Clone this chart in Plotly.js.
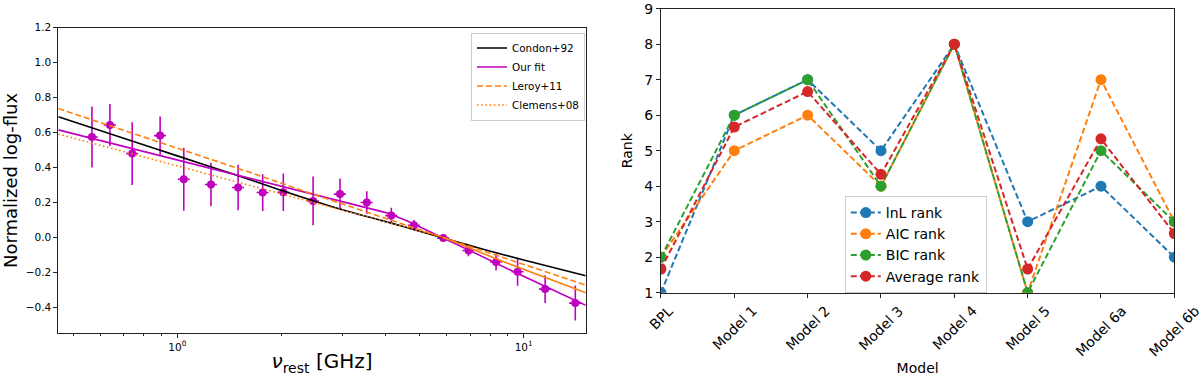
<!DOCTYPE html>
<html>
<head>
<meta charset="utf-8">
<script src="https://cdn.plot.ly/plotly-3.0.1.min.js"></script>
<style>
  html, body { margin: 0; padding: 0; background: #fff; }
  #chart { width: 1200px; height: 378px; }
</style>
</head>
<body>
<div id="chart"></div>
<script>
// ---- left panel: spectrum data (GHz, normalized log-flux) ----
const freq = [0.567, 0.639, 0.741, 0.892, 1.044, 1.251, 1.498, 1.764, 2.023, 2.466,
              2.949, 3.524, 4.147, 4.82, 5.86, 6.93, 8.32, 9.60, 11.53, 14.09];
const logFlux = [0.574, 0.643, 0.479, 0.582, 0.332, 0.302, 0.285, 0.256, 0.258, 0.208,
                 0.247, 0.199, 0.124, 0.069, -0.005, -0.076, -0.142, -0.198, -0.297, -0.377];
const fluxErr = [0.175, 0.12, 0.18, 0.11, 0.18, 0.125, 0.13, 0.105, 0.107, 0.14,
                 0.09, 0.065, 0.045, 0.03, 0.015, 0.033, 0.048, 0.08, 0.08, 0.1];

// model curves
const condonX = [0.4533, 0.7, 1.0, 1.42, 2.0, 3.0, 4.39, 5.86, 7.82, 10, 15.1];
const condonY = [0.69, 0.567, 0.466, 0.368, 0.268, 0.157, 0.067, -0.004, -0.075, -0.13, -0.22];
const fitX = [0.4533, 1.0, 2.0, 3.0, 4.0, 4.6, 5.86, 9.44, 15.1];
const fitY = [0.615, 0.443, 0.292, 0.204, 0.141, 0.095, -0.005, -0.2, -0.39];
const leroyX = [0.4533, 1.568, 2.47, 15.1];
const leroyY = [0.737, 0.381, 0.246, -0.274];
const clemensX = [0.4533, 1.568, 3.0, 5.86];
const clemensY = [0.591, 0.305, 0.156, 0.0];
const clemensHiX = [5.86, 8.36, 15.1];
const clemensHiY = [0.0, -0.125, -0.318];

const logTicks = [1, 10];
const logTickText = ['10<sup>0</sup>', '10<sup>1</sup>'];
const logMinor = [0.5, 0.6, 0.7, 0.8, 0.9, 2, 3, 4, 5, 6, 7, 8, 9];

// ---- right panel: model ranks ----
const models = ['BPL', 'Model 1', 'Model 2', 'Model 3', 'Model 4', 'Model 5', 'Model 6a', 'Model 6b'];
const lnlRank = [1, 6, 7, 5, 8, 3, 4, 2];
const aicRank = [2, 5, 6, 4, 8, 1, 7, 3];
const bicRank = [2, 6, 7, 4, 8, 1, 5, 3];
const avgRank = [1.667, 5.667, 6.667, 4.333, 8, 1.667, 5.333, 2.667];
const rankTicks = [1, 2, 3, 4, 5, 6, 7, 8, 9];

const FONT = 'DejaVu Sans, sans-serif';
const MAG = '#bf00bf';
const ORANGE = '#ff7f0e';

const traces = [
    {
        x: freq, y: logFlux, type: 'scatter', mode: 'markers',
        marker: { color: MAG, size: 8 },
        error_y: { type: 'data', array: fluxErr, color: MAG, thickness: 1.6, width: 0 },
        error_x: { type: 'percent', value: 4, color: MAG, thickness: 1.6, width: 0 },
        showlegend: false, xaxis: 'x', yaxis: 'y'
    },
    { x: condonX, y: condonY, type: 'scatter', mode: 'lines', name: 'Condon+92',
      line: { color: '#000', width: 1.6, shape: 'spline', smoothing: 0.6 }, xaxis: 'x', yaxis: 'y' },
    { x: fitX, y: fitY, type: 'scatter', mode: 'lines', name: 'Our fit',
      line: { color: MAG, width: 1.6 }, xaxis: 'x', yaxis: 'y' },
    { x: leroyX, y: leroyY, type: 'scatter', mode: 'lines', name: 'Leroy+11',
      line: { color: ORANGE, width: 1.6, dash: '6px,3px' }, xaxis: 'x', yaxis: 'y' },
    { x: clemensX, y: clemensY, type: 'scatter', mode: 'lines', name: 'Clemens+08',
      line: { color: ORANGE, width: 1.6, dash: '1.6px,2.6px' }, xaxis: 'x', yaxis: 'y' },
    { x: clemensHiX, y: clemensHiY, type: 'scatter', mode: 'lines', showlegend: false,
      line: { color: ORANGE, width: 1.6 }, xaxis: 'x', yaxis: 'y' }
];

const rankSeries = [
    ['lnL rank', lnlRank, '#1f77b4'],
    ['AIC rank', aicRank, '#ff7f0e'],
    ['BIC rank', bicRank, '#2ca02c'],
    ['Average rank', avgRank, '#d62728']
];
rankSeries.forEach(([name, vals, color]) => {
    traces.push({
        x: models, y: vals, type: 'scatter', mode: 'lines+markers', name: name,
        line: { color: color, width: 2, dash: '6px,3px' },
        marker: { color: color, size: 11 },
        xaxis: 'x2', yaxis: 'y2', legend: 'legend2'
    });
});

// rotated category labels, centred on their ticks like matplotlib does
const modelLabels = models.map(m => ({
    text: m, x: m, xref: 'x2', y: 0.2063, yref: 'paper',
    xanchor: 'center', yanchor: 'top', textangle: -45, showarrow: false,
    font: { size: 14, family: FONT, color: '#000' }
}));

const axisCommon = {
    showline: true, mirror: true, linecolor: '#222', linewidth: 1,
    ticks: 'outside', ticklen: 4, tickcolor: '#222',
    showgrid: false, zeroline: false
};

const layout = {
    width: 1200, height: 378,
    margin: { l: 0, r: 0, t: 0, b: 0 },
    paper_bgcolor: '#fff', plot_bgcolor: '#fff',
    font: { family: FONT, color: '#000' },
    xaxis: {
        ...axisCommon, type: 'log', domain: [0.0486, 0.4881], range: [-0.3435, 1.179],
        tickmode: 'array', tickvals: logTicks, ticktext: logTickText,
        minor: { tickmode: 'array', tickvals: logMinor, ticks: 'outside', ticklen: 2, tickcolor: '#222' },
        tickfont: { size: 10.5 },
        title: { text: '<i>ν</i><sub>rest</sub> [GHz]', font: { size: 20 }, standoff: 2 },
        anchor: 'y'
    },
    yaxis: {
        ...axisCommon, domain: [0.1183, 0.9267], range: [-0.55, 1.2],
        tickmode: 'array', tickvals: [-0.4, -0.2, 0, 0.2, 0.4, 0.6, 0.8, 1.0, 1.2],
        tickformat: '.1f', tickfont: { size: 10.5 },
        title: { text: 'Normalized log-flux', font: { size: 18 }, standoff: 6 },
        anchor: 'x'
    },
    xaxis2: {
        ...axisCommon, type: 'category', domain: [0.5508, 0.9786], range: [0, 7],
        showticklabels: false,
        title: { text: 'Model', font: { size: 14 }, standoff: 66 },
        anchor: 'y2'
    },
    yaxis2: {
        ...axisCommon, domain: [0.2257, 0.977], range: [0.9995, 9.0005],
        tickmode: 'array', tickvals: rankTicks,
        tickfont: { size: 14 },
        title: { text: 'Rank', font: { size: 14 }, standoff: 8 },
        anchor: 'x2'
    },
    annotations: modelLabels,
    legend: {
        x: 0.4875, xanchor: 'right', y: 0.914, yanchor: 'top',
        bgcolor: 'rgba(255,255,255,0.8)', bordercolor: '#ccc', borderwidth: 1,
        font: { size: 10.4 }, itemwidth: 30, tracegroupgap: 0
    },
    legend2: {
        x: 0.704, xanchor: 'left', y: 0.4815, yanchor: 'top',
        bgcolor: 'rgba(255,255,255,0.8)', bordercolor: '#ccc', borderwidth: 1,
        font: { size: 14 }, itemwidth: 30, tracegroupgap: 0
    }
};

Plotly.newPlot('chart', traces, layout, { displayModeBar: false, responsive: false });
</script>
</body>
</html>
